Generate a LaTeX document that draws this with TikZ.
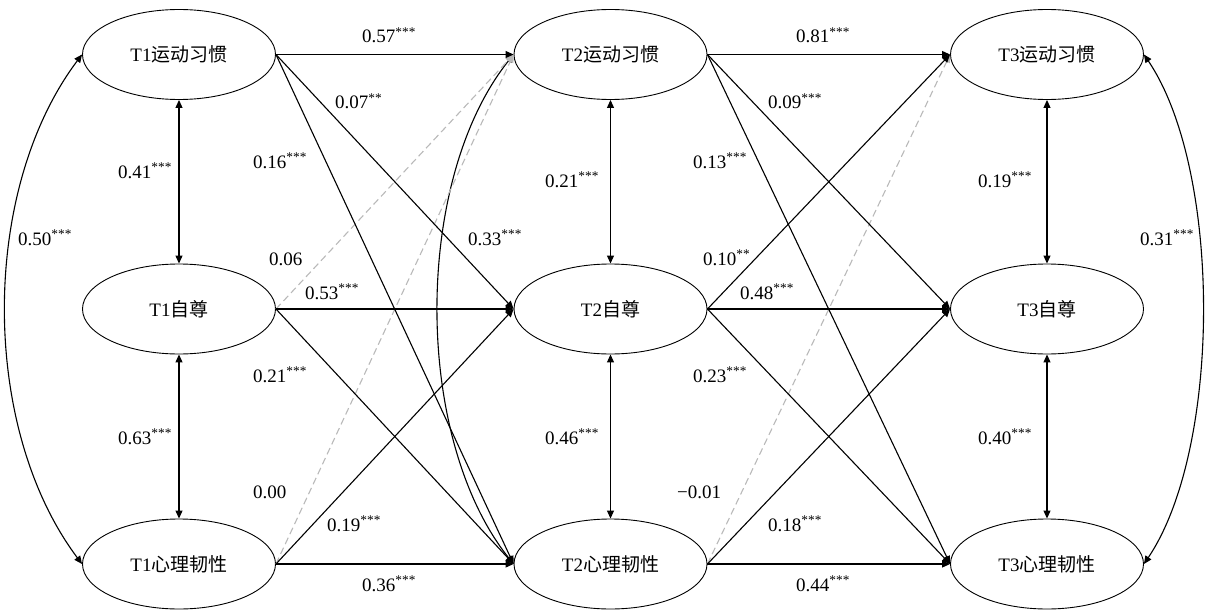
\documentclass[tikz,border=0pt]{standalone}
\usepackage{fontspec}
\setmainfont{Liberation Serif}
\newfontfamily\cjk{Noto Sans CJK SC}
\usetikzlibrary{shapes.geometric,arrows.meta}
\newcommand{\mysup}[1]{\textsuperscript{#1}}
\tikzset{
  var/.style={ellipse,draw,line width=0.9pt,minimum width=193pt,minimum height=90pt,inner sep=0pt,font=\fontsize{19}{22}\selectfont},
  pth/.style={line width=1.1pt,-{Triangle[length=8pt,width=7pt]}},
  npth/.style={line width=1.1pt,draw=gray!55,dash pattern=on 7pt off 4pt,-{Triangle[length=8pt,width=7pt,fill=gray!55]}},
  cov/.style={line width=1.1pt,{Triangle[length=8pt,width=7pt]}-{Triangle[length=8pt,width=7pt]}},
  lab/.style={anchor=base west,inner sep=0pt,font=\fontsize{19}{22}\selectfont},
}
\begin{document}
\begin{tikzpicture}[x=1pt,y=-1pt]
\useasboundingbox (0,0) rectangle (1208,610);
% variables
\node[var] (A1) at (179,54.5) {T1{\cjk 运动习惯}};
\node[var] (B1) at (179,309) {T1{\cjk 自尊}};
\node[var] (C1) at (179,564) {T1{\cjk 心理韧性}};
\node[var] (A2) at (610.5,54.5) {T2{\cjk 运动习惯}};
\node[var] (B2) at (610.5,309) {T2{\cjk 自尊}};
\node[var] (C2) at (610.5,564) {T2{\cjk 心理韧性}};
\node[var] (A3) at (1047,54.5) {T3{\cjk 运动习惯}};
\node[var] (B3) at (1047,309) {T3{\cjk 自尊}};
\node[var] (C3) at (1047,564) {T3{\cjk 心理韧性}};
% within-time covariances
\draw[cov] (A1.south) -- (B1.north);
\draw[cov] (B1.south) -- (C1.north);
\draw[cov] (A2.south) -- (B2.north);
\draw[cov] (B2.south) -- (C2.north);
\draw[cov] (A3.south) -- (B3.north);
\draw[cov] (B3.south) -- (C3.north);
% curved covariances
\draw[cov] (A1.west) .. controls (-20,190) and (-20,428) .. (C1.west);
\draw[cov] (A2.west) .. controls (413,180) and (413,438) .. (C2.west);
\draw[cov] (A3.east) .. controls (1222,170) and (1222,448) .. (C3.east);
% nonsignificant paths
\draw[npth] (B1.east) -- (A2.west);
\draw[npth] (C1.east) -- (A2.west);
\draw[npth] (C2.east) -- (A3.west);
% T1 -> T2
\draw[pth] (A1.east) -- (A2.west);
\draw[pth] (A1.east) -- (B2.west);
\draw[pth] (A1.east) -- (C2.west);
\draw[pth] (B1.east) -- (B2.west);
\draw[pth] (B1.east) -- (C2.west);
\draw[pth] (C1.east) -- (B2.west);
\draw[pth] (C1.east) -- (C2.west);
% T2 -> T3
\draw[pth] (A2.east) -- (A3.west);
\draw[pth] (A2.east) -- (B3.west);
\draw[pth] (A2.east) -- (C3.west);
\draw[pth] (B2.east) -- (A3.west);
\draw[pth] (B2.east) -- (B3.west);
\draw[pth] (B2.east) -- (C3.west);
\draw[pth] (C2.east) -- (B3.west);
\draw[pth] (C2.east) -- (C3.west);
% labels
\node[lab] (l1) at (362,43) {0.57\mysup{***}};
\node[lab] (l2) at (335,109) {0.07\mysup{**}};
\node[lab] (l3) at (253,168) {0.16\mysup{***}};
\node[lab] (l4) at (118,178) {0.41\mysup{***}};
\node[lab] (l5) at (18,245) {0.50\mysup{***}};
\node[lab] (l6) at (269,265) {0.06};
\node[lab] (l7) at (305,299) {0.53\mysup{***}};
\node[lab] (l8) at (253,382) {0.21\mysup{***}};
\node[lab] (l9) at (468,245) {0.33\mysup{***}};
\node[lab] (l10) at (118,444) {0.63\mysup{***}};
\node[lab] (l11) at (253,498) {0.00};
\node[lab] (l12) at (327,531) {0.19\mysup{***}};
\node[lab] (l13) at (362,591) {0.36\mysup{***}};
\node[lab] (l14) at (545,187) {0.21\mysup{***}};
\node[lab] (l15) at (545,444) {0.46\mysup{***}};
\node[lab] (l16) at (796,43) {0.81\mysup{***}};
\node[lab] (l17) at (768,109) {0.09\mysup{***}};
\node[lab] (l18) at (693,168) {0.13\mysup{***}};
\node[lab] (l19) at (703,265) {0.10\mysup{**}};
\node[lab] (l20) at (740,299) {0.48\mysup{***}};
\node[lab] (l21) at (693,382) {0.23\mysup{***}};
\node[lab] (l22) at (677,498) {−0.01};
\node[lab] (l23) at (768,531) {0.18\mysup{***}};
\node[lab] (l24) at (796,591) {0.44\mysup{***}};
\node[lab] (l25) at (978,187) {0.19\mysup{***}};
\node[lab] (l26) at (978,444) {0.40\mysup{***}};
\node[lab] (l27) at (1140,245) {0.31\mysup{***}};
\end{tikzpicture}
\end{document}
